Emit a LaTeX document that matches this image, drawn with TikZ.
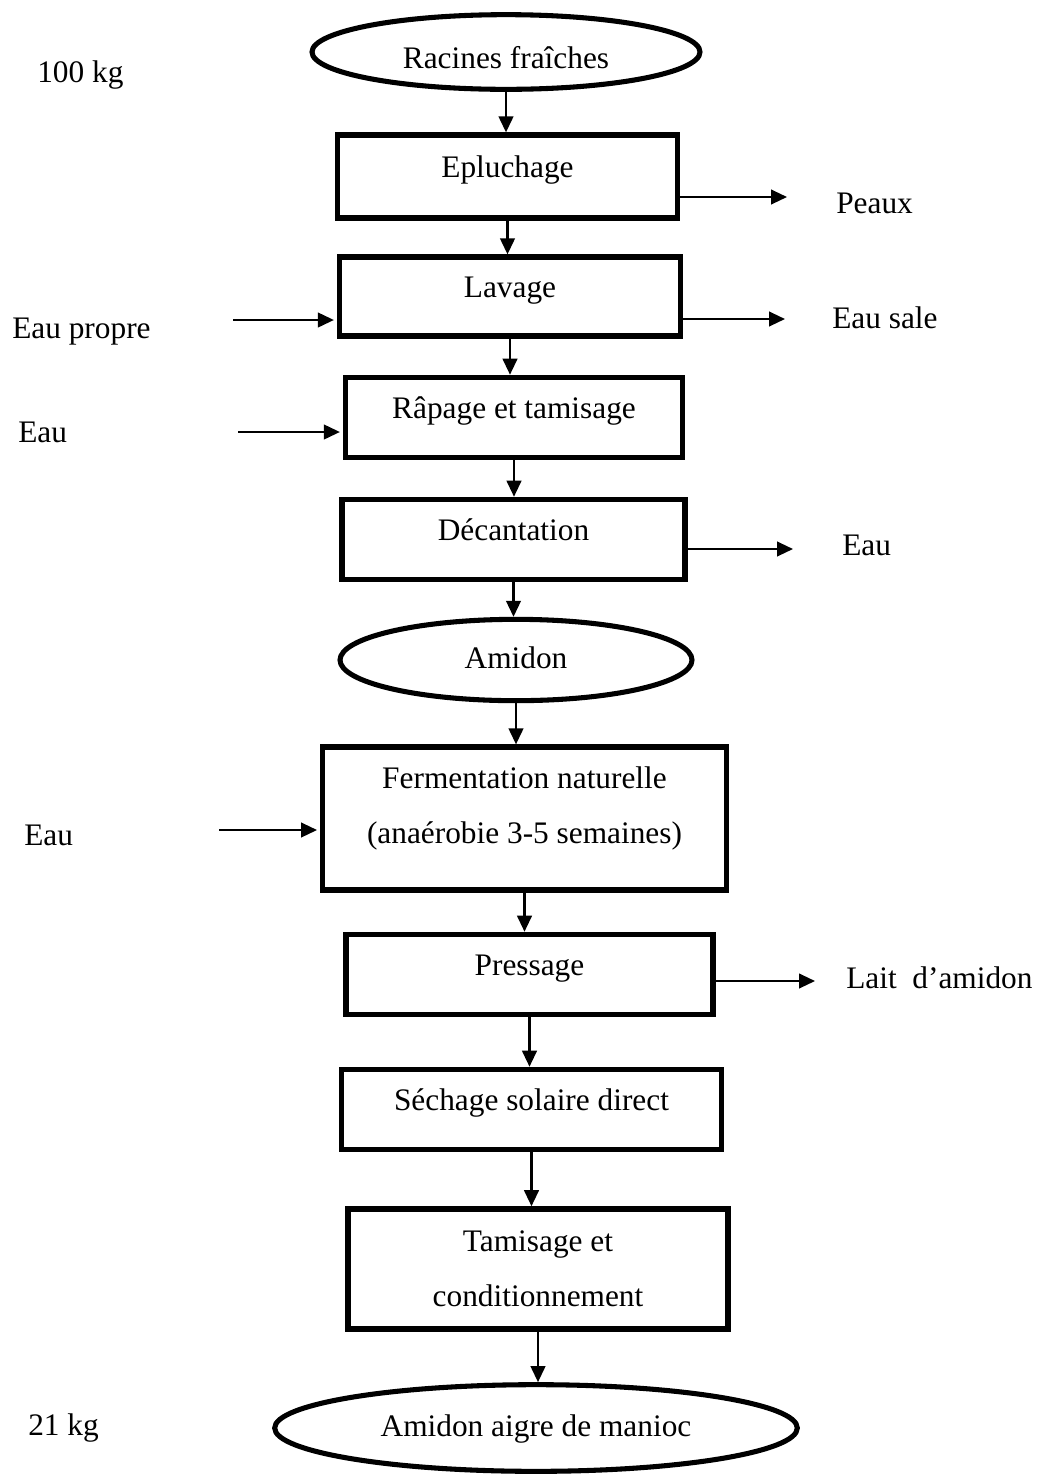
\documentclass[tikz,border=0pt]{standalone}
\usepackage{fontspec}
\setmainfont{Liberation Serif}
\usetikzlibrary{shapes.geometric, arrows.meta}

\begin{document}
\begin{tikzpicture}[x=0.75pt, y=-0.75pt,
    every node/.style={font=\fontsize{23.5}{41}\selectfont},
    stepbox/.style={draw, line width=4.2pt, inner sep=0pt},
    oneline/.style={text height=17pt, text depth=16pt},
    product/.style={draw, ellipse, line width=3.8pt, inner sep=0pt, text height=17pt, text depth=5pt},
    flow/.style={line width=1.6pt, -{Triangle[length=12pt, width=11pt]}},
    side/.style={anchor=base west, inner sep=0pt}]
  \useasboundingbox (0,0) rectangle (1042,1479);

  % products
  \node[product, minimum width=291pt, minimum height=56pt, text height=30pt] (rac) at (506,52) {Racines fraîches};
  \node[product, minimum width=264pt, minimum height=61pt] (ami) at (516,660) {Amidon};
  \node[product, minimum width=392pt, minimum height=65pt] (fin) at (536,1428) {Amidon aigre de manioc};

  % steps
  \node[stepbox, oneline, minimum width=255pt, minimum height=62pt] (epl) at (507.5,176.5) {Epluchage};
  \node[stepbox, oneline, minimum width=256pt, minimum height=59pt] (lav) at (510,296.5) {Lavage};
  \node[stepbox, oneline, minimum width=253pt, minimum height=60pt] (rap) at (514,417.5) {Râpage et tamisage};
  \node[stepbox, oneline, minimum width=257pt, minimum height=60pt] (dec) at (513.5,539.5) {Décantation};
  \node[stepbox, align=center, minimum width=303pt, minimum height=107pt] (fer) at (524.5,818.5)
    {Fermentation naturelle\\(anaérobie 3-5 semaines)\rule[-20pt]{0pt}{1pt}};
  \node[stepbox, oneline, minimum width=275pt, minimum height=60pt] (pre) at (529.5,974.5) {Pressage};
  \node[stepbox, oneline, minimum width=285pt, minimum height=60pt] (sec) at (531.5,1109.5) {Séchage solaire direct};
  \node[stepbox, align=center, minimum width=285pt, minimum height=90pt] (tam) at (538,1269) {Tamisage et\\conditionnement};

  % side texts
  \node[side] (qin) at (37,82) {100 kg};
  \node[side] (qout) at (28,1435) {21 kg};
  \node[side] (peaux) at (836,213) {Peaux};
  \node[side] (propre) at (12,338) {Eau propre};
  \node[side] (sale) at (832,328) {Eau sale};
  \node[side] (eaurap) at (18,442) {Eau};
  \node[side] (eaudec) at (842,555) {Eau};
  \node[side] (eaufer) at (24,845) {Eau};
  \node[side] (lait) at (846,988) {Lait \ d’amidon};

  \coordinate (peauxEnd) at (787,197);
  \coordinate (saleEnd) at (785,319);
  \coordinate (eauDecEnd) at (793,549);
  \coordinate (laitEnd) at (815,981);
  \coordinate (propreStart) at (233,320);
  \coordinate (eauRapStart) at (238,432);
  \coordinate (eauFerStart) at (219,830);

  % main line
  \draw[flow] (rac) -- (rac |- epl.north);
  \draw[flow] (epl) -- (epl |- lav.north);
  \draw[flow] (lav) -- (lav |- rap.north);
  \draw[flow] (rap) -- (rap |- dec.north);
  \draw[flow] (dec) -- (dec |- ami.north);
  \draw[flow] (ami) -- (ami |- fer.north);
  \draw[flow] (fer) -- (fer |- pre.north);
  \draw[flow] (pre) -- (pre |- sec.north);
  \draw[flow] (sec) -- (sec |- tam.north);
  \draw[flow] (tam) -- (tam |- fin.north);

  % inputs and outputs
  \draw[flow] (epl.east |- peauxEnd) -- (peauxEnd);
  \draw[flow] (lav.east |- saleEnd) -- (saleEnd);
  \draw[flow] (dec.east |- eauDecEnd) -- (eauDecEnd);
  \draw[flow] (pre.east |- laitEnd) -- (laitEnd);
  \draw[flow, shorten >=2pt] (propreStart) -- (propreStart -| lav.west);
  \draw[flow, shorten >=2pt] (eauRapStart) -- (eauRapStart -| rap.west);
  \draw[flow, shorten >=2pt] (eauFerStart) -- (eauFerStart -| fer.west);
\end{tikzpicture}
\end{document}
